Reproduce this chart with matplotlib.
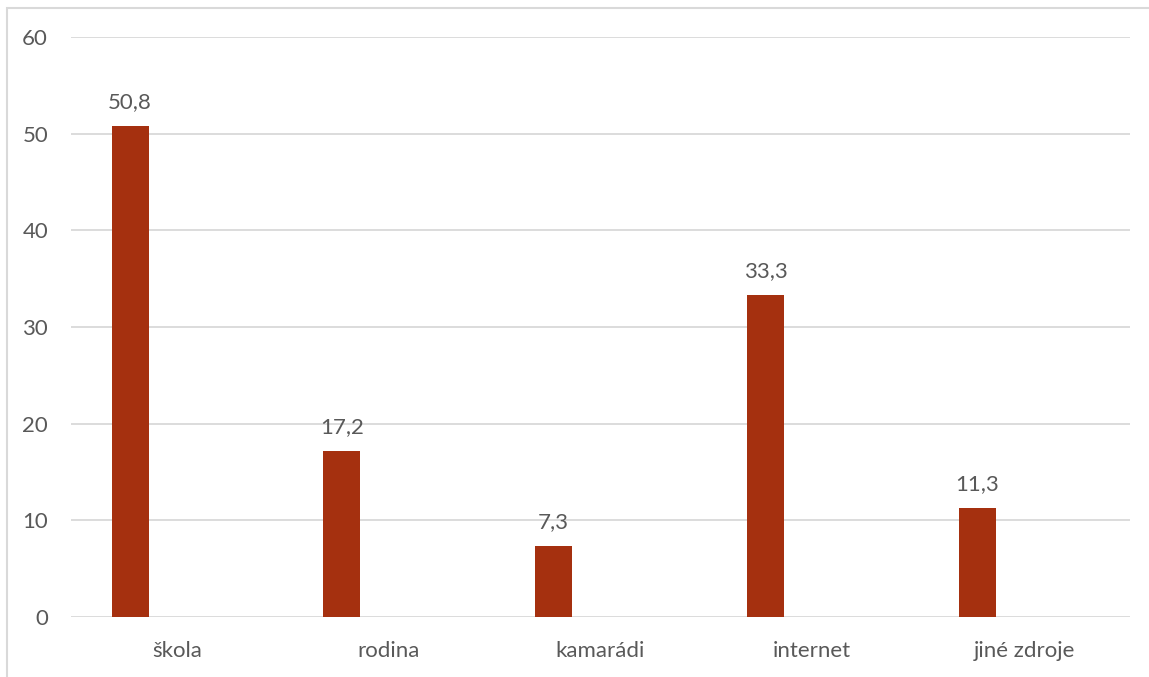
import matplotlib.pyplot as plt
from matplotlib.patches import Rectangle
import numpy as np

categories = ["škola", "rodina", "kamarádi", "internet", "jiné zdroje"]
values = [50.8, 17.2, 7.3, 33.3, 11.3]
yticks = [0, 10, 20, 30, 40, 50, 60]

bar_color = "#A5300F"
text_color = "#595959"
grid_color = "#D9D9D9"

plt.rcParams['font.family'] = ['Lato', 'DejaVu Sans']

fig = plt.figure(figsize=(11.49, 6.77), dpi=100)
ax = fig.add_axes([71 / 1149, 1 - 617 / 677, 1059 / 1149, 580 / 677])

x = np.arange(len(categories))
bars = ax.bar(x - 0.221, values, width=0.175, color=bar_color, zorder=3)

for b, v in zip(bars, values):
    ax.annotate(f"{v:.1f}".replace(".", ","),
                (b.get_x() + b.get_width() / 2, v),
                xytext=(0, 10), textcoords="offset points",
                ha="center", va="bottom", fontsize=16, color=text_color)

ax.set_xlim(-0.5, len(categories) - 0.5)
ax.set_ylim(0, 60)
ax.set_yticks(yticks)
ax.set_yticklabels([str(t) for t in yticks])
ax.set_xticks(x)
ax.set_xticklabels(categories)
ax.tick_params(axis="both", length=0, labelsize=16, colors=text_color)
ax.tick_params(axis="y", pad=16.5)
ax.tick_params(axis="x", pad=17.5)
ax.yaxis.grid(True, color=grid_color, linewidth=1.3, zorder=0)
for s in ax.spines.values():
    s.set_visible(False)

# chart border
fig.patches.append(Rectangle((7 / 1149, -0.1), 1.2, 1 - 8 / 677 + 0.1,
                             transform=fig.transFigure, fill=False,
                             edgecolor=grid_color, linewidth=1.5))

fig.savefig("out.png", dpi=100)
